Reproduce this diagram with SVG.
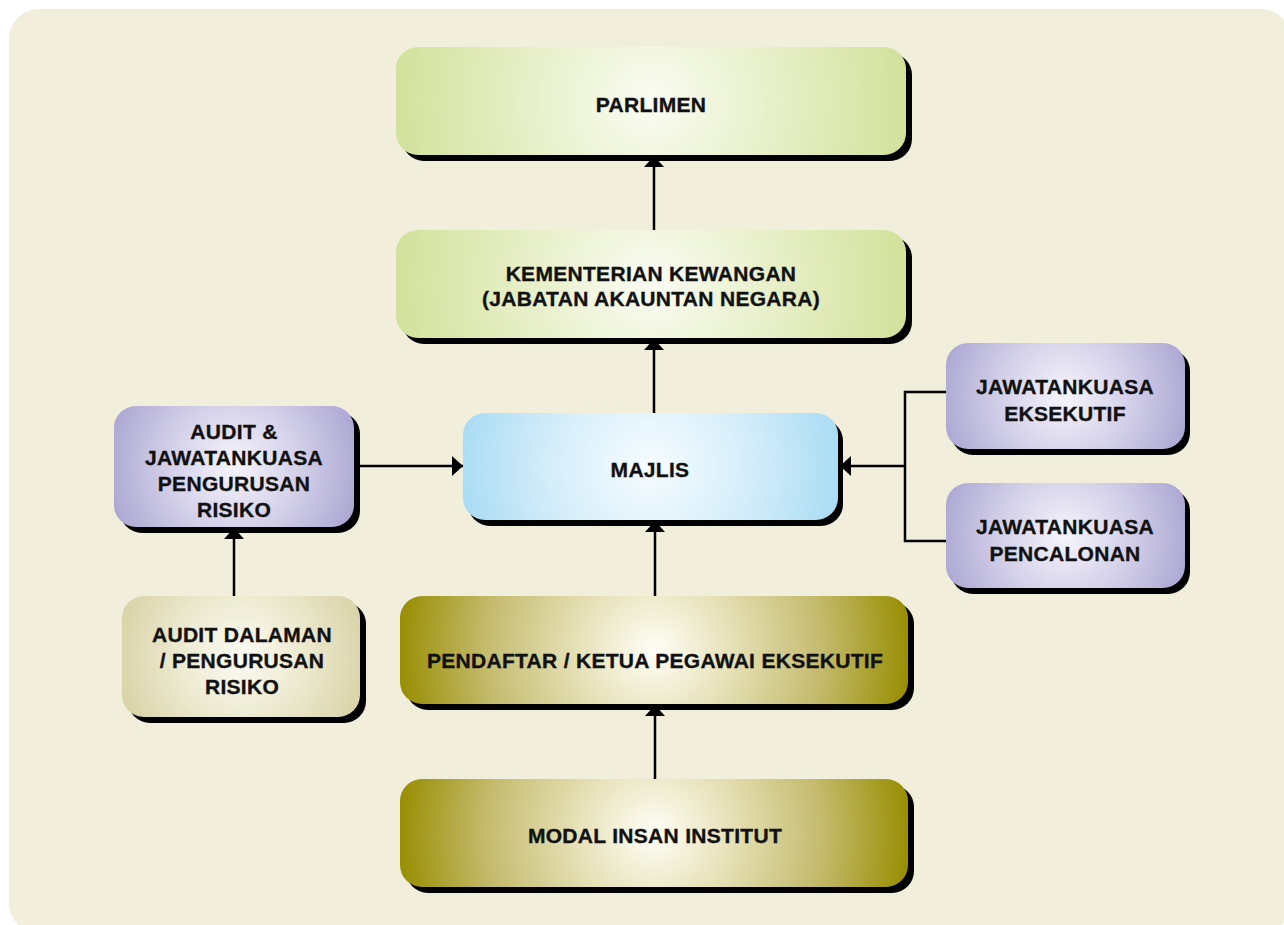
<svg xmlns="http://www.w3.org/2000/svg" width="1284" height="925" viewBox="0 0 1284 925">
  <style>
    .shadow { fill: #000000; }
    .label { font-family: "Liberation Sans", Arial, Helvetica, sans-serif; font-weight: bold; font-size: 21px; letter-spacing: 0.3px; fill: #111111; stroke: #111111; stroke-width: 0.35; text-anchor: middle; }
    .conn { stroke: #000000; stroke-width: 2.5; fill: none; }
    .arrow { marker-end: url(#arrowHead); }
  </style>
  <defs>
    <marker id="arrowHead" markerUnits="userSpaceOnUse" markerWidth="11" markerHeight="20" refX="11" refY="10" orient="auto" viewBox="0 0 11 20">
      <path d="M0,0 L11,10 L0,20 z" fill="#000000"/>
    </marker>
    <radialGradient id="gParlimen" gradientUnits="userSpaceOnUse" cx="651" cy="101" r="260">
      <stop offset="0" stop-color="#FAFCF3"/>
      <stop offset="0.5" stop-color="#E6EFC6"/>
      <stop offset="1" stop-color="#D2E19B"/>
    </radialGradient>
    <radialGradient id="gKementerian" gradientUnits="userSpaceOnUse" cx="651" cy="284" r="260">
      <stop offset="0" stop-color="#FAFCF3"/>
      <stop offset="0.5" stop-color="#E6EFC6"/>
      <stop offset="1" stop-color="#D2E19B"/>
    </radialGradient>
    <radialGradient id="gMajlis" gradientUnits="userSpaceOnUse" cx="650" cy="466" r="192">
      <stop offset="0" stop-color="#F6FCFF"/>
      <stop offset="0.5" stop-color="#D6EEFA"/>
      <stop offset="1" stop-color="#A9DCF4"/>
    </radialGradient>
    <radialGradient id="gAuditJK" gradientUnits="userSpaceOnUse" cx="234" cy="466" r="130">
      <stop offset="0" stop-color="#F6F5FB"/>
      <stop offset="0.5" stop-color="#D3D0E9"/>
      <stop offset="1" stop-color="#ABA6D2"/>
    </radialGradient>
    <radialGradient id="gEksekutif" gradientUnits="userSpaceOnUse" cx="1065" cy="396" r="128">
      <stop offset="0" stop-color="#F6F5FB"/>
      <stop offset="0.5" stop-color="#D3D0E9"/>
      <stop offset="1" stop-color="#ABA6D2"/>
    </radialGradient>
    <radialGradient id="gPencalonan" gradientUnits="userSpaceOnUse" cx="1065" cy="536" r="128">
      <stop offset="0" stop-color="#F6F5FB"/>
      <stop offset="0.5" stop-color="#D3D0E9"/>
      <stop offset="1" stop-color="#ABA6D2"/>
    </radialGradient>
    <radialGradient id="gDalaman" gradientUnits="userSpaceOnUse" cx="241" cy="656" r="128">
      <stop offset="0" stop-color="#FCFBF3"/>
      <stop offset="0.5" stop-color="#ECE9CF"/>
      <stop offset="1" stop-color="#D8D3A6"/>
    </radialGradient>
    <radialGradient id="gPendaftar" gradientUnits="userSpaceOnUse" cx="654" cy="650" r="258">
      <stop offset="0" stop-color="#FFFEF7"/>
      <stop offset="0.3" stop-color="#E6E1B7"/>
      <stop offset="0.65" stop-color="#C4BB6E"/>
      <stop offset="1" stop-color="#978D00"/>
    </radialGradient>
    <radialGradient id="gModal" gradientUnits="userSpaceOnUse" cx="654" cy="833" r="258">
      <stop offset="0" stop-color="#FFFEF7"/>
      <stop offset="0.3" stop-color="#E6E1B7"/>
      <stop offset="0.65" stop-color="#C4BB6E"/>
      <stop offset="1" stop-color="#978D00"/>
    </radialGradient>
  </defs>

  <rect x="9" y="9" width="1282" height="924" rx="30" ry="30" fill="#F2EEDC"/>

  <g id="connectors">
    <line class="conn arrow" x1="654" y1="230" x2="654" y2="156"/>
    <line class="conn arrow" x1="654" y1="413" x2="654" y2="339"/>
    <line class="conn arrow" x1="655" y1="596" x2="655" y2="521"/>
    <line class="conn arrow" x1="655" y1="779" x2="655" y2="705"/>
    <line class="conn arrow" x1="234" y1="596" x2="234" y2="528"/>
    <line class="conn arrow" x1="359" y1="466" x2="463" y2="466"/>
    <polyline class="conn" points="946,392 905,392 905,541 946,541"/>
    <line class="conn arrow" x1="905" y1="466" x2="840" y2="466"/>
  </g>

  <g id="node-parlimen">
    <rect class="shadow" x="402" y="53" width="510" height="108" rx="22"/>
    <rect x="396" y="47" width="510" height="108" rx="22" fill="url(#gParlimen)"/>
    <text class="label" x="651" y="112">PARLIMEN</text>
  </g>

  <g id="node-kementerian">
    <rect class="shadow" x="402" y="236" width="510" height="108" rx="22"/>
    <rect x="396" y="230" width="510" height="108" rx="22" fill="url(#gKementerian)"/>
    <text class="label" x="651" y="281">KEMENTERIAN KEWANGAN</text>
    <text class="label" x="651" y="306">(JABATAN AKAUNTAN NEGARA)</text>
  </g>

  <g id="node-majlis">
    <rect class="shadow" x="468" y="419" width="375" height="107" rx="22"/>
    <rect x="463" y="413" width="375" height="107" rx="22" fill="url(#gMajlis)"/>
    <text class="label" x="650" y="477">MAJLIS</text>
  </g>

  <g id="node-audit-jk">
    <rect class="shadow" x="120" y="412" width="240" height="121" rx="22"/>
    <rect x="114" y="406" width="240" height="121" rx="22" fill="url(#gAuditJK)"/>
    <text class="label" x="234" y="439">AUDIT &amp;</text>
    <text class="label" x="234" y="465">JAWATANKUASA</text>
    <text class="label" x="234" y="491">PENGURUSAN</text>
    <text class="label" x="234" y="517">RISIKO</text>
  </g>

  <g id="node-audit-dalaman">
    <rect class="shadow" x="128" y="602" width="238" height="121" rx="22"/>
    <rect x="122" y="596" width="238" height="121" rx="22" fill="url(#gDalaman)"/>
    <text class="label" x="242" y="642">AUDIT DALAMAN</text>
    <text class="label" x="242" y="668">/ PENGURUSAN</text>
    <text class="label" x="242" y="694">RISIKO</text>
  </g>

  <g id="node-jk-eksekutif">
    <rect class="shadow" x="951" y="349" width="239" height="106" rx="22"/>
    <rect x="946" y="343" width="239" height="106" rx="22" fill="url(#gEksekutif)"/>
    <text class="label" x="1065" y="394">JAWATANKUASA</text>
    <text class="label" x="1065" y="421">EKSEKUTIF</text>
  </g>

  <g id="node-jk-pencalonan">
    <rect class="shadow" x="951" y="489" width="239" height="105" rx="22"/>
    <rect x="946" y="483" width="239" height="105" rx="22" fill="url(#gPencalonan)"/>
    <text class="label" x="1065" y="534">JAWATANKUASA</text>
    <text class="label" x="1065" y="561">PENCALONAN</text>
  </g>

  <g id="node-pendaftar">
    <rect class="shadow" x="406" y="602" width="508" height="108" rx="22"/>
    <rect x="400" y="596" width="508" height="108" rx="22" fill="url(#gPendaftar)"/>
    <text class="label" x="655" y="668">PENDAFTAR / KETUA PEGAWAI EKSEKUTIF</text>
  </g>

  <g id="node-modal">
    <rect class="shadow" x="406" y="785" width="508" height="108" rx="22"/>
    <rect x="400" y="779" width="508" height="108" rx="22" fill="url(#gModal)"/>
    <text class="label" x="655" y="843">MODAL INSAN INSTITUT</text>
  </g>
</svg>
